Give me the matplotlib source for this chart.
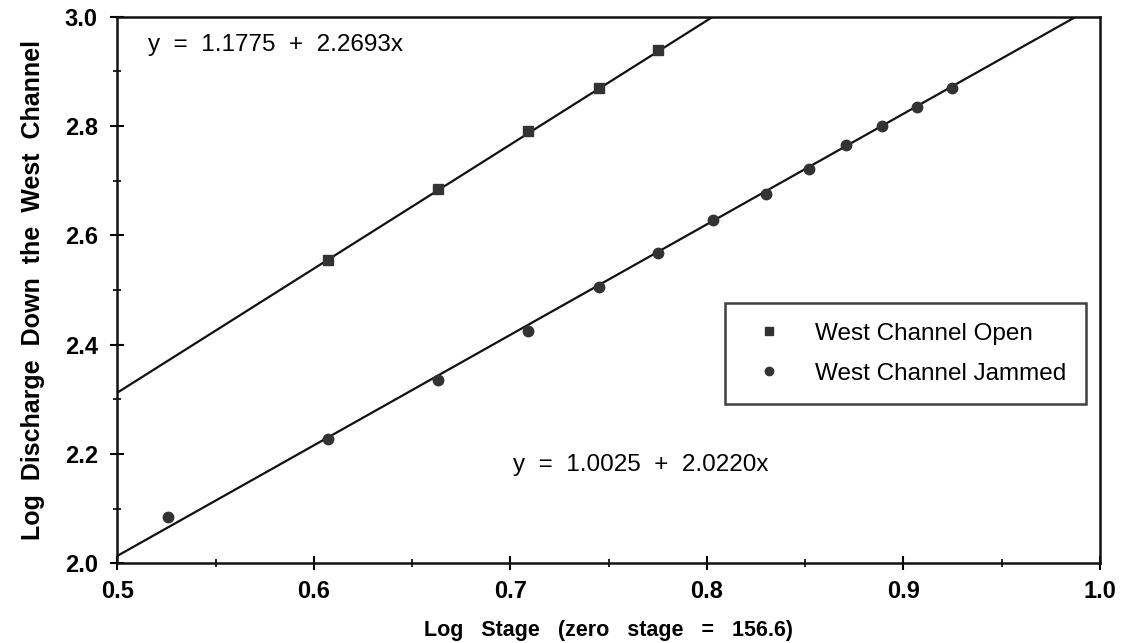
import matplotlib.pyplot as plt
import numpy as np

plt.rcParams['font.family'] = ['Liberation Sans', 'DejaVu Sans']

# log stage values and log discharge for the two conditions
open_x = [0.607, 0.663, 0.709, 0.745, 0.775]
open_y = [2.555, 2.685, 2.79, 2.87, 2.94]

jam_x = [0.526, 0.607, 0.663, 0.709, 0.745, 0.775, 0.803, 0.830,
         0.852, 0.871, 0.889, 0.907, 0.925]
jam_y = [2.085, 2.228, 2.335, 2.425, 2.505, 2.568, 2.628, 2.675,
         2.722, 2.765, 2.80, 2.835, 2.87]

# fitted lines: y = a + b x
open_fit = (1.1775, 2.2693)
jam_fit = (1.0025, 2.0220)

fig = plt.figure(figsize=(11.28, 6.43), dpi=100)
ax = fig.add_axes([0.104, 0.124, 0.871, 0.850])

xx = np.array([0.5, 1.0])
ax.plot(xx, open_fit[0] + open_fit[1] * xx, color='#111111', lw=1.6, zorder=2)
ax.plot(xx, jam_fit[0] + jam_fit[1] * xx, color='#111111', lw=1.6, zorder=2)

ax.plot(open_x, open_y, 's', color='#333333', ms=7, ls='none',
        label='West Channel Open', zorder=3)
ax.plot(jam_x, jam_y, 'o', color='#333333', ms=7.5, ls='none',
        label='West Channel Jammed', zorder=3)

ax.set_xlim(0.5, 1.0)
ax.set_ylim(2.0, 3.0)
ax.set_xticks([0.5, 0.6, 0.7, 0.8, 0.9, 1.0])
ax.set_xticklabels(['0.5', '0.6', '0.7', '0.8', '0.9', '1.0'])
ax.set_xticks(np.arange(0.55, 1.0, 0.1), minor=True)
ax.set_yticks([2.0, 2.2, 2.4, 2.6, 2.8, 3.0])
ax.set_yticklabels(['2.0', '2.2', '2.4', '2.6', '2.8', '3.0'])
ax.set_yticks(np.arange(2.1, 3.0, 0.2), minor=True)
ax.tick_params(which='major', direction='inout', length=10, width=1.5,
               labelsize=17)
ax.tick_params(axis='x', which='major', pad=7)
ax.tick_params(axis='y', which='major', pad=9)
ax.tick_params(which='minor', direction='inout', length=6, width=1.2)
for lab in ax.get_xticklabels() + ax.get_yticklabels():
    lab.set_fontweight('bold')
for s in ax.spines.values():
    s.set_linewidth(1.8)
    s.set_color('#111111')

ax.set_xlabel('Log   Stage   (zero   stage   =   156.6)', fontsize=15.5,
              fontweight='bold', labelpad=12)
ax.set_ylabel('Log  Discharge  Down  the  West  Channel', fontsize=18,
              fontweight='bold', labelpad=14)

ax.text(0.5158, 2.949, 'y  =  1.1775  +  2.2693x', fontsize=17.5, va='center')
ax.text(0.7014, 2.179, 'y  =  1.0025  +  2.0220x', fontsize=17.5, va='center')

leg = ax.legend(loc='upper left', bbox_to_anchor=(0.619, 0.476), fontsize=17.5,
                frameon=True, fancybox=False, edgecolor='#111111',
                borderpad=0.8, labelspacing=0.75, handletextpad=0.9,
                borderaxespad=0, markerscale=0.8)
leg.get_frame().set_linewidth(1.8)

fig.savefig('out.png', dpi=100)
